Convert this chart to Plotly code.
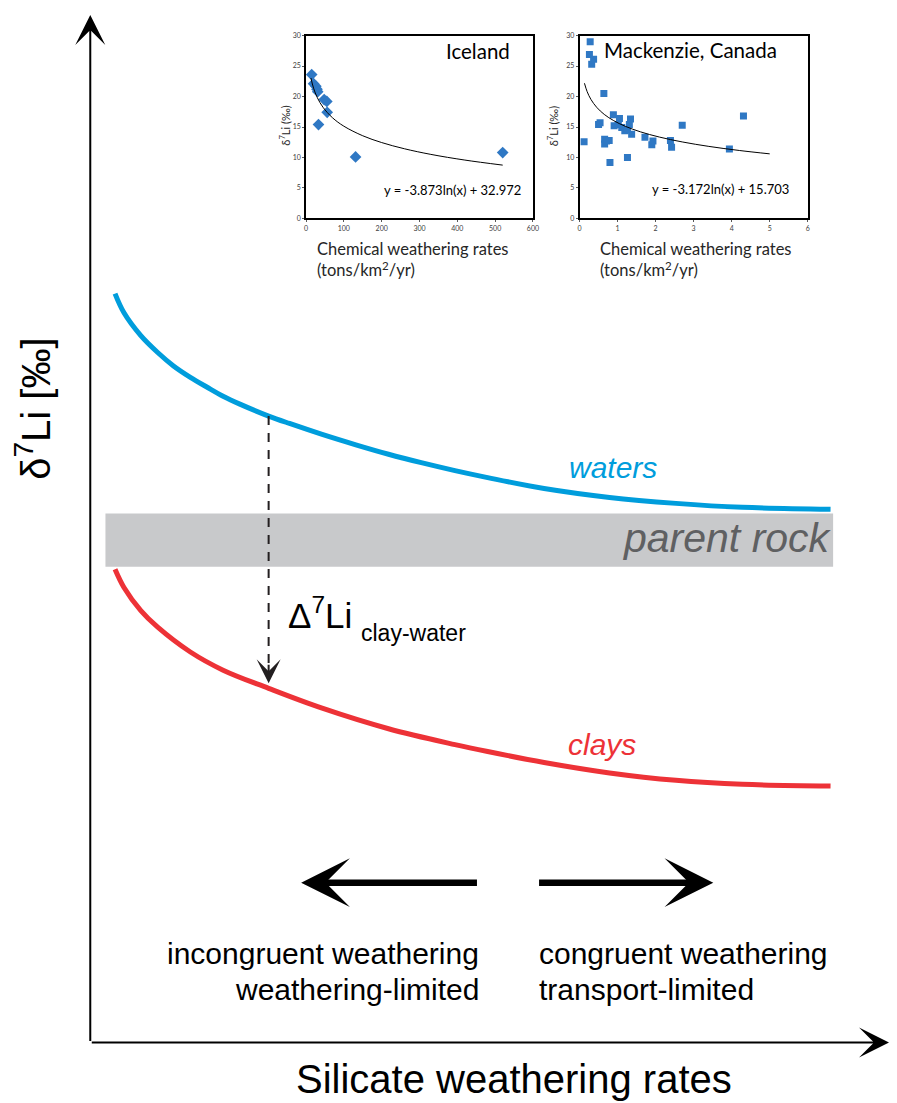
import numpy as np
import plotly.graph_objects as go

# ---------------- data ----------------
# main schematic (x: silicate weathering rate, y: d7Li, arbitrary units)
waters_x = [0.310, 0.422, 0.633, 0.844, 1.042, 1.253, 1.464, 1.663, 1.873, 2.233, 2.494, 2.903,
            3.325, 3.734, 4.144, 4.566, 4.975, 5.682, 6.501, 7.333, 8.164, 9.268]
waters_y = [29.152, 28.406, 27.517, 26.860, 26.338, 25.894, 25.507, 25.159, 24.850, 24.386, 24.097,
            23.671, 23.266, 22.899, 22.570, 22.261, 21.990, 21.565, 21.217, 20.986, 20.831, 20.754]
clays_x = [0.310, 0.422, 0.633, 0.844, 1.253, 1.663, 2.233, 2.903, 3.734, 4.566, 4.975, 5.682,
           6.501, 7.333, 8.164, 9.268]
clays_y = [18.423, 17.712, 16.812, 16.166, 15.200, 14.493, 13.786, 13.013, 12.213, 11.594, 11.324,
           10.899, 10.493, 10.203, 10.048, 9.983]
rock_x = [0.19, 9.30]
rock_y = [18.52, 20.59]
delta_x = 2.233
delta_y = [24.39, 13.98]

# inset 1: Iceland
ice_x = [15, 20, 26, 29, 31, 48, 55, 56, 33, 131, 520]
ice_y = [23.6, 22.1, 21.7, 21.2, 20.8, 19.5, 19.2, 17.4, 15.4, 10.1, 10.8]
ice_a, ice_b = -3.873, 32.972
ice_fit_x = [13, 20, 30, 45, 70, 100, 150, 200, 260, 330, 420, 520]

# inset 2: Mackenzie, Canada
mac_x = [0.28, 0.26, 0.37, 0.32, 0.64, 0.12, 0.50, 0.54, 0.66, 0.66, 0.71, 0.78, 0.80, 0.89, 0.91,
         1.02, 1.05, 1.11, 1.19, 1.26, 1.31, 1.34, 1.37, 1.26, 1.72, 1.90, 1.93, 2.39, 2.42, 2.70,
         3.94, 4.31]
mac_y = [29.0, 26.9, 26.1, 25.3, 20.5, 12.6, 15.4, 15.7, 13.0, 12.2, 12.7, 12.8, 9.2, 17.0, 15.2,
         15.4, 16.4, 14.9, 14.4, 14.5, 15.4, 16.3, 13.8, 10.0, 13.3, 12.1, 12.7, 12.8, 11.7, 15.3,
         11.4, 16.8]
mac_a, mac_b = -3.172, 15.703
mac_fit_x = [0.13, 0.2, 0.3, 0.45, 0.65, 0.9, 1.2, 1.6, 2.1, 2.7, 3.4, 4.2, 5.0]

ice_fit_y = [ice_a * np.log(v) + ice_b for v in ice_fit_x]
mac_fit_y = [mac_a * np.log(v) + mac_b for v in mac_fit_x]

BLUE = "#009ddc"
RED = "#ed3237"
MARK = "#2f78c4"
MAINFONT = "Liberation Sans, Arial, sans-serif"
INFONT = "Lato, Open Sans, sans-serif"

W, H = 889, 1095          # page body has an 8px margin
OFF = 8


def px(x):
    return (x - OFF) / W


def py(y):
    return 1 - (y - OFF) / H


fig = go.Figure()

# parent rock band
fig.add_shape(type="rect", xref="x", yref="y", x0=rock_x[0], x1=rock_x[1], y0=rock_y[0], y1=rock_y[1],
              fillcolor="#c8c9cb", line=dict(width=0), layer="below")

fig.add_trace(go.Scatter(x=waters_x, y=waters_y, mode="lines", line=dict(color=BLUE, width=5, shape="spline"),
                         xaxis="x", yaxis="y", showlegend=False, hoverinfo="skip"))
fig.add_trace(go.Scatter(x=clays_x, y=clays_y, mode="lines", line=dict(color=RED, width=5, shape="spline"),
                         xaxis="x", yaxis="y", showlegend=False, hoverinfo="skip"))
fig.add_trace(go.Scatter(x=[delta_x, delta_x], y=[delta_y[0], delta_y[1] + 0.6], mode="lines",
                         line=dict(color="#231f20", width=2, dash="9px,8px"),
                         xaxis="x", yaxis="y", showlegend=False, hoverinfo="skip"))

# insets
fig.add_trace(go.Scatter(x=ice_x, y=ice_y, mode="markers",
                         marker=dict(symbol="diamond", size=9, color=MARK, line=dict(width=0)),
                         xaxis="x2", yaxis="y2", showlegend=False))
fig.add_trace(go.Scatter(x=ice_fit_x, y=ice_fit_y, mode="lines", line=dict(color="black", width=1, shape="spline"),
                         xaxis="x2", yaxis="y2", showlegend=False))
fig.add_trace(go.Scatter(x=mac_x, y=mac_y, mode="markers",
                         marker=dict(symbol="square", size=7, color=MARK, line=dict(width=0)),
                         xaxis="x3", yaxis="y3", showlegend=False))
fig.add_trace(go.Scatter(x=mac_fit_x, y=mac_fit_y, mode="lines", line=dict(color="black", width=1, shape="spline"),
                         xaxis="x3", yaxis="y3", showlegend=False))

ann = []
# axis arrows
ann.append(dict(x=0, y=40, ax=0, ay=0, xref="x", yref="y", axref="x", ayref="y", text="",
                showarrow=True, arrowhead=3, arrowwidth=2, arrowsize=2.5, arrowcolor="black"))
ann.append(dict(x=10, y=0, ax=0, ay=0, xref="x", yref="y", axref="x", ayref="y", text="",
                showarrow=True, arrowhead=3, arrowwidth=2, arrowsize=2.5, arrowcolor="black"))
# delta arrow head
ann.append(dict(x=delta_x, y=delta_y[1], ax=0, ay=-20, xref="x", yref="y", text="",
                showarrow=True, arrowhead=3, arrowwidth=2, arrowsize=2, arrowcolor="#231f20"))
# direction arrows
ann.append(dict(x=2.64, y=6.22, ax=4.86, ay=6.22, xref="x", yref="y", axref="x", ayref="y", text="",
                showarrow=True, arrowhead=3, arrowwidth=6.5, arrowsize=1.25, arrowcolor="black"))
ann.append(dict(x=7.80, y=6.22, ax=5.60, ay=6.22, xref="x", yref="y", axref="x", ayref="y", text="",
                showarrow=True, arrowhead=3, arrowwidth=6.5, arrowsize=1.25, arrowcolor="black"))


def t(x, y, text, size, color="black", xa="center", ya="middle", family=MAINFONT, ref="data", angle=0,
      align="center"):
    d = dict(x=x, y=y, text=text, showarrow=False, xanchor=xa, yanchor=ya, textangle=angle, align=align,
             borderpad=0, font=dict(size=size, color=color, family=family))
    if ref == "data":
        d.update(xref="x", yref="y")
    else:
        d.update(xref="paper", yref="paper")
    return d


ann.append(t(6.55, 22.38, "<i>waters</i>", 30, BLUE))
ann.append(t(6.41, 11.6, "<i>clays</i>", 30, RED))
ann.append(t(9.30, 19.62, "<i>parent rock</i>", 41, "#5f6062", xa="right"))
ann.append(t(2.46, 16.70, "Δ<sup>7</sup>Li", 35, xa="left"))
ann.append(t(3.38, 15.95, "clay-water", 23, xa="left"))
ann.append(t(4.88, 3.48, "incongruent weathering", 30, xa="right"))
ann.append(t(4.88, 2.05, "weathering-limited", 30, xa="right"))
ann.append(t(5.60, 3.48, "congruent weathering", 30, xa="left"))
ann.append(t(5.60, 2.05, "transport-limited", 30, xa="left"))
ann.append(t(5.30, -1.42, "Silicate weathering rates", 40))
ann.append(t(-0.72, 24.66, "δ<sup>7</sup>Li [‰]", 40, angle=-90))

# inset annotations (paper coords)
ann.append(t(px(480), py(46.5), "Iceland", 20.5, "black", family=INFONT, ref="paper"))
ann.append(t(px(694.7), py(45.5), "Mackenzie, Canada", 20.5, "black", family=INFONT, ref="paper"))
ann.append(t(px(454.2), py(186.7), "y = -3.873ln(x) + 32.972", 13, "black", family=INFONT, ref="paper"))
ann.append(t(px(724.7), py(185.7), "y = -3.172ln(x) + 15.703", 13, "black", family=INFONT, ref="paper"))
ann.append(t(px(317), py(256.7), "Chemical weathering rates<br>(tons/km<sup>2</sup>/yr)", 16.5, "#262626",
             xa="left", family=INFONT, ref="paper", align="left"))
ann.append(t(px(602), py(256.7), "Chemical weathering rates<br>(tons/km<sup>2</sup>/yr)", 16.5, "#262626",
             xa="left", family=INFONT, ref="paper", align="left"))
ann.append(t(px(285), py(122), "δ<sup>7</sup>Li (‰)", 11, "#262626", family=INFONT, ref="paper", angle=-90))
ann.append(t(px(555), py(122), "δ<sup>7</sup>Li (‰)", 11, "#262626", family=INFONT, ref="paper", angle=-90))

inset_y = [py(215), py(30.7)]
inset_axis = dict(showline=True, linecolor="black", linewidth=1.5, mirror=True, showgrid=False, zeroline=False,
                  ticks="outside", ticklen=2, tickcolor="#595959",
                  tickfont=dict(size=7, color="#404040", family=INFONT))

# main axis: x=0 at screen px 89, x=10 at 895; y=0 at screen 1045, y=40 at 10
sx = (895 - 89) / 10.0
sy = (1045 - 10) / 40.0
x_lo = -(89 - OFF) / sx
x_hi = x_lo + W / sx
y_hi = 40 + (10 - OFF) / sy
y_lo = y_hi - H / sy

fig.update_layout(
    width=W, height=H, margin=dict(l=0, r=0, t=0, b=0),
    paper_bgcolor="white", plot_bgcolor="white", showlegend=False,
    xaxis=dict(domain=[0, 1], range=[x_lo, x_hi], visible=False, fixedrange=True),
    yaxis=dict(domain=[0, 1], range=[y_lo, y_hi], visible=False, fixedrange=True),
    xaxis2=dict(domain=[px(306.7), px(535.7)], range=[0, 600], dtick=100, anchor="y2", **inset_axis),
    yaxis2=dict(domain=inset_y, range=[0, 30], dtick=5, anchor="x2", **inset_axis),
    xaxis3=dict(domain=[px(582.7), px(813)], range=[0, 6], dtick=1, anchor="y3", **inset_axis),
    yaxis3=dict(domain=inset_y, range=[0, 30], dtick=5, anchor="x3", **inset_axis),
    annotations=ann,
)

fig.write_html("out.html")
